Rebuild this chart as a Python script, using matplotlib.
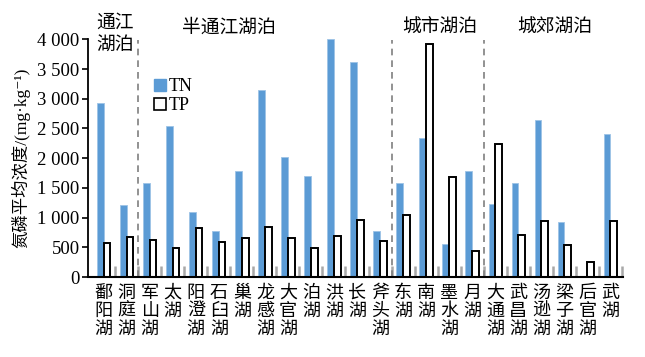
import numpy as np
import matplotlib
matplotlib.use('Agg')
import matplotlib.pyplot as plt
from matplotlib.lines import Line2D

# lakes along the x axis (stacked vertically in the labels)
lakes = ['鄱阳湖', '洞庭湖', '军山湖', '太湖', '阳澄湖', '石臼湖', '巢湖', '龙感湖',
         '大官湖', '泊湖', '洪湖', '长湖', '斧头湖', '东湖', '南湖', '墨水湖', '月湖',
         '大通湖', '武昌湖', '汤逊湖', '梁子湖', '后官湖', '武湖']

# mean concentrations, mg/kg
tn = [2930, 1220, 1590, 2540, 1095, 770, 1790, 3145, 2015, 1705, 4000, 3625, 775,
      1580, 2335, 555, 1790, 1225, 1580, 2645, 930, 0, 2400]
tp = [567, 680, 630, 483, 825, 584, 652, 837, 652, 483, 690, 966, 601,
      1039, 3920, 1675, 438, 2245, 714, 943, 546, 259, 938]

groups = ['通江\n湖泊', '半通江湖泊', '城市湖泊', '城郊湖泊']
group_x = [0.5, 5.45, 14.6, 19.6]
group_breaks = [1.5, 12.5, 16.5]

cjk = ['Noto Sans CJK SC', 'DejaVu Sans']
serif = ['Liberation Serif', 'Noto Sans CJK SC', 'DejaVu Serif']

fig = plt.figure(figsize=(6.45, 3.57), dpi=100)
ax = fig.add_axes([88 / 645, 1 - 277 / 357, 535 / 645, 237.7 / 357])

x = np.arange(len(lakes))
w = 0.29
ax.bar(x - w / 2, tn, width=w, color='#5b9bd5', edgecolor='#9dc3e6', linewidth=0.6, label='TN')
ax.bar(x + w / 2, tp, width=w, color='white', edgecolor='black', linewidth=1.4, label='TP')

ax.set_xlim(-0.68, 22.55)
ax.set_ylim(0, 4000)

# group separators
for b in group_breaks:
    ax.plot([b, b], [0, 3990], color='#7f7f7f', lw=1.2, dashes=(4, 3))

for gx, g in zip(group_x, groups):
    yy = 1.026 if '\n' in g else 1.052
    ax.text(gx, yy, g, transform=ax.get_xaxis_transform(), ha='center', va='center',
            fontsize=13.5, family=cjk, linespacing=1.05)

ax.spines['top'].set_visible(False)
ax.spines['right'].set_visible(False)
ax.spines['left'].set_linewidth(1.3)
ax.spines['bottom'].set_linewidth(1.5)

ax.set_yticks(np.arange(0, 4001, 500))
ax.set_yticklabels(['0' if v == 0 else f'{v:,}'.replace(',', ' ') for v in range(0, 4001, 500)],
                   family=serif, fontsize=13.5)
ax.tick_params(axis='y', direction='out', length=4, width=1.2, pad=2)

ax.set_xticks(x)
ax.set_xticklabels(['\n'.join(n) for n in lakes], family=cjk, fontsize=13, linespacing=1.0)
ax.tick_params(axis='x', which='major', length=0, pad=5)
ax.set_xticks(np.arange(0.5, 23, 1), minor=True)
ax.tick_params(axis='x', which='minor', direction='in', length=8, width=1.8, color='#a8a8a8')

ax.set_ylabel('氮磷平均浓度/(mg·kg⁻¹)', family=serif, fontsize=12.5, labelpad=5)

handles = [Line2D([], [], marker='s', ls='', markersize=8, markerfacecolor='#5b9bd5',
                  markeredgecolor='#5b9bd5'),
           Line2D([], [], marker='s', ls='', markersize=8, markerfacecolor='white',
                  markeredgecolor='black', markeredgewidth=1.2)]
ax.legend(handles, ['TN', 'TP'], loc='upper left', bbox_to_anchor=(0.105, 0.875),
          frameon=False, borderpad=0, handlelength=0.7, handletextpad=0.15,
          labelspacing=0.1, prop={'family': serif, 'size': 13})

fig.savefig('out.png', dpi=100)
